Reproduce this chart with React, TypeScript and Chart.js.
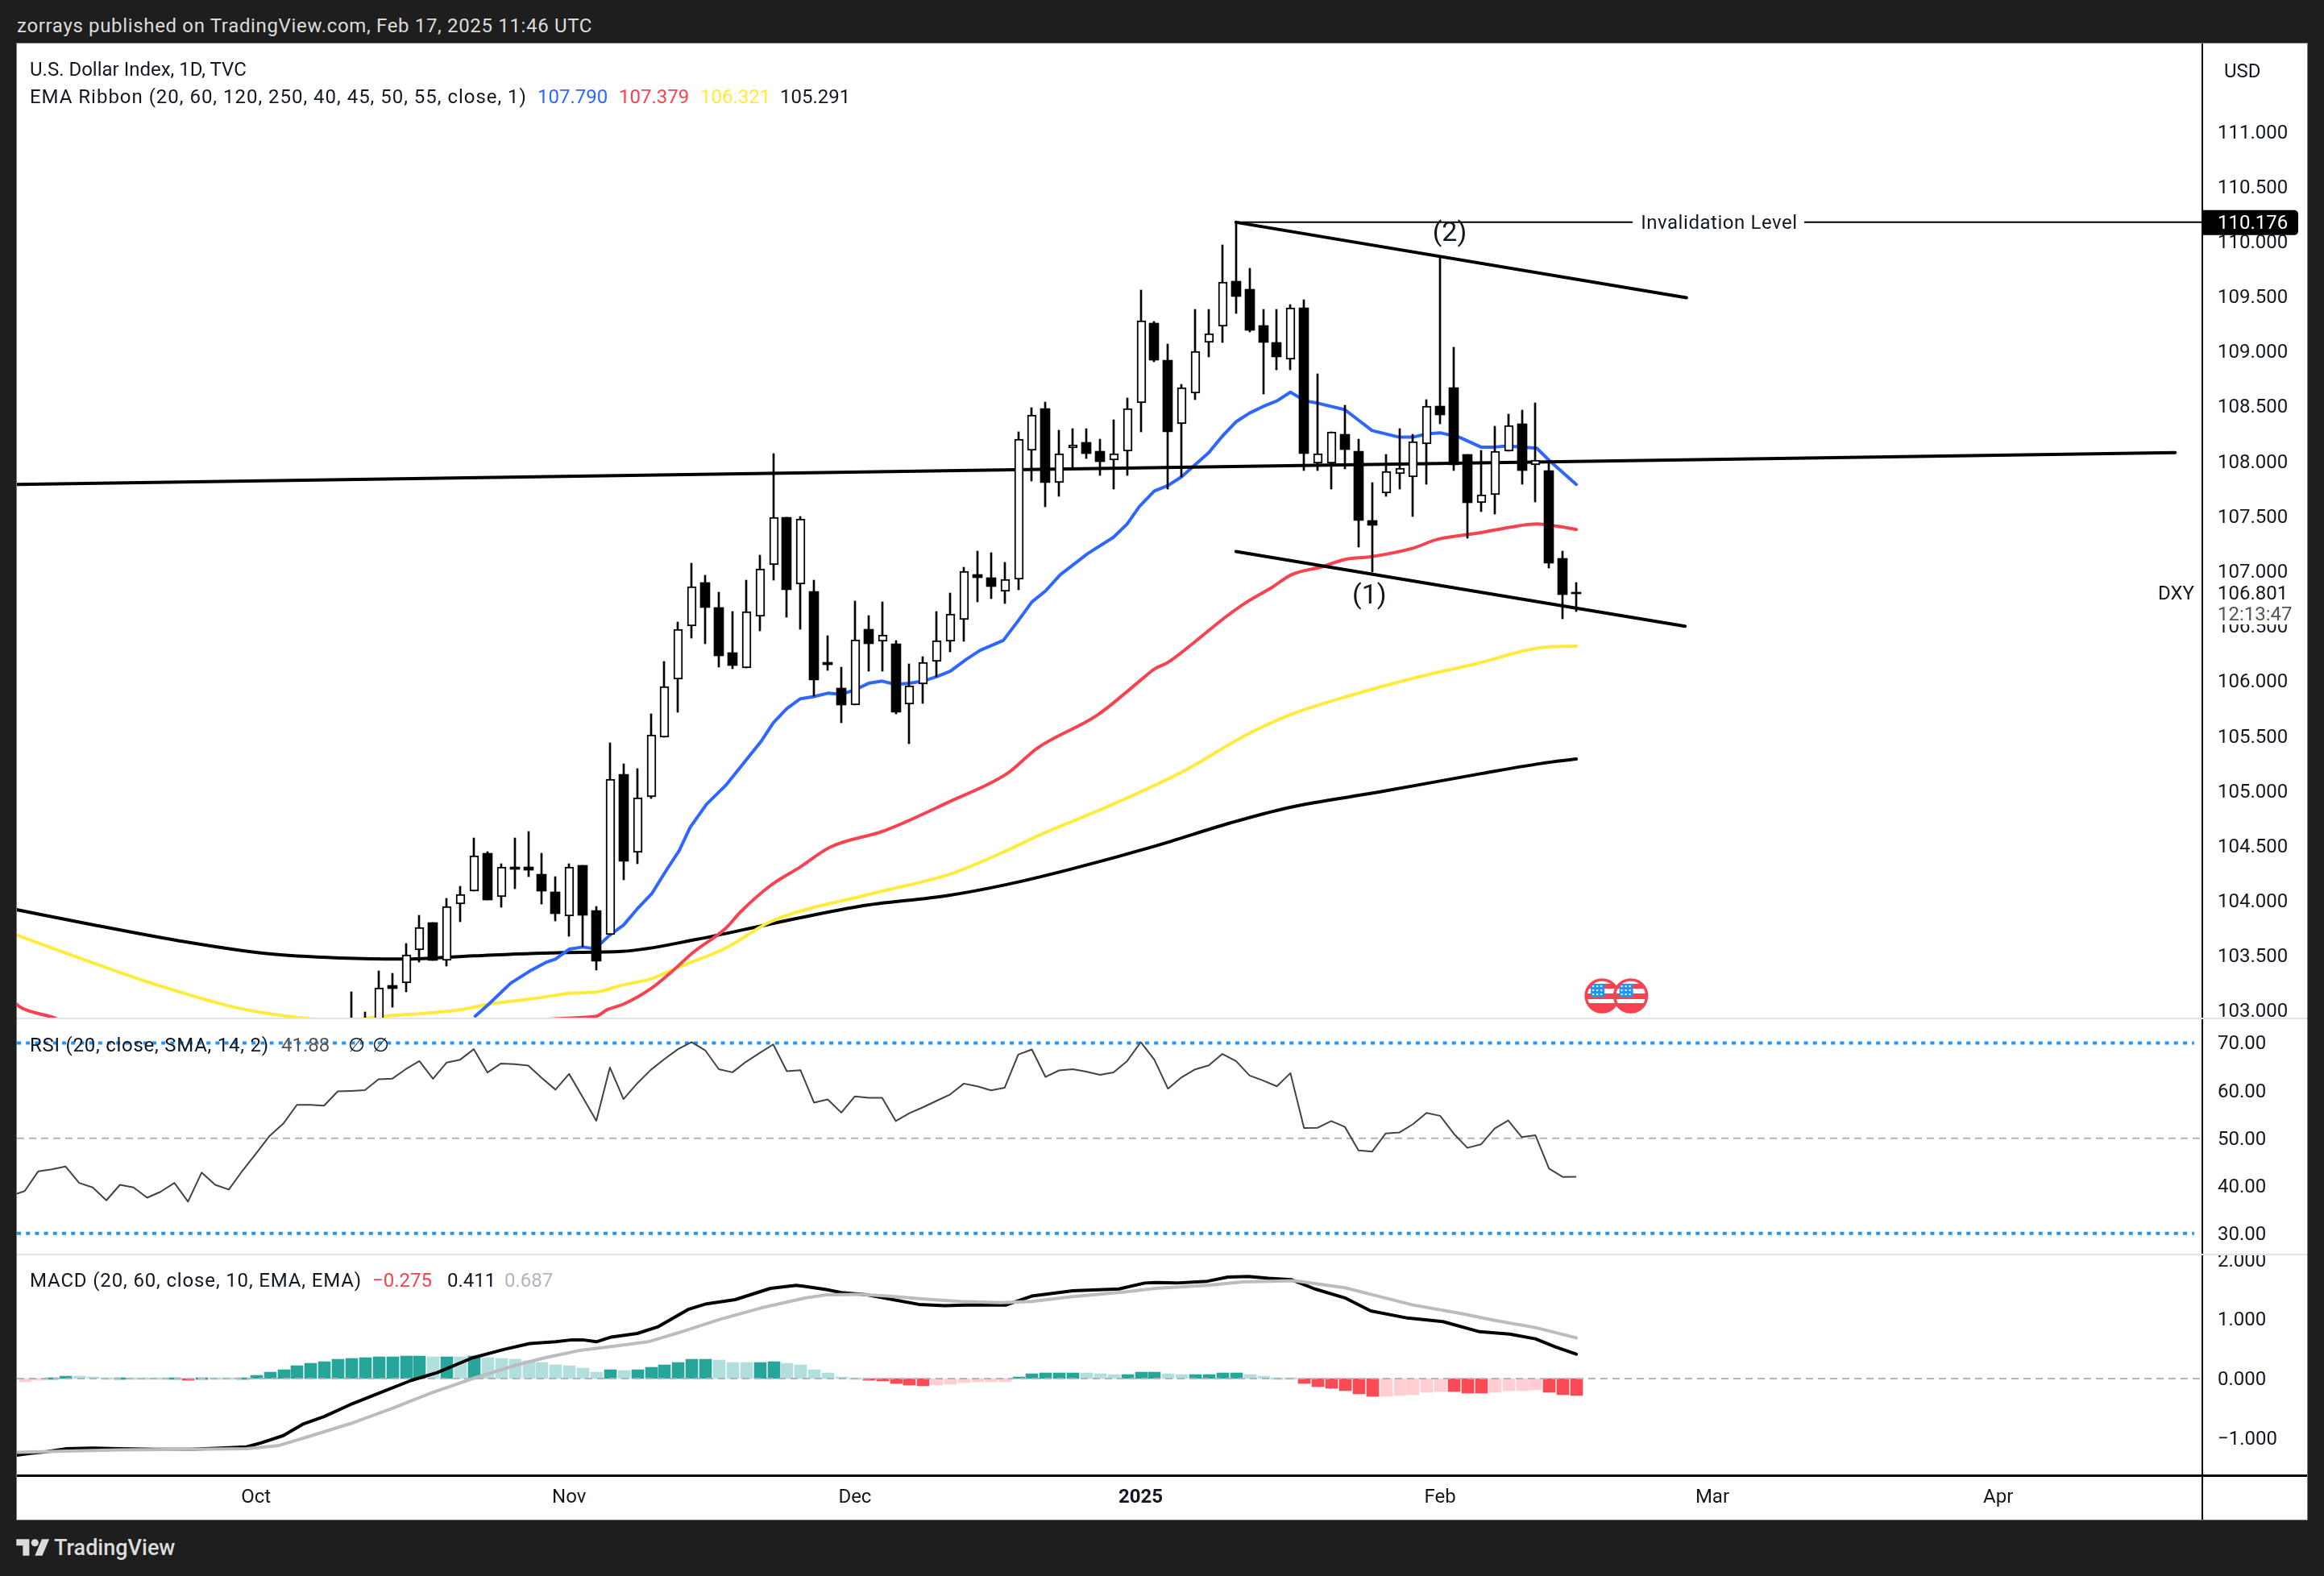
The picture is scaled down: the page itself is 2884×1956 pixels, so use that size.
import React, { useEffect, useRef } from "react";
import { Chart, registerables } from "chart.js";

Chart.register(...registerables);

// ---------- Price bars (daily) ----------
const barOpen = [102.85,102.88,102.85,103.23,103.25,103.55,103.80,103.46,103.97,104.09,104.43,104.04,104.31,104.31,104.24,104.08,103.86,104.32,103.91,103.69,105.15,104.44,104.95,105.49,106.02,106.50,106.90,106.67,106.26,106.12,106.59,107.06,107.49,106.88,106.82,106.17,105.94,105.78,106.47,106.36,106.34,105.79,105.97,106.18,106.36,106.56,106.97,106.94,106.82,106.93,108.10,108.48,107.81,108.12,108.17,108.09,108.01,108.09,108.53,109.26,108.92,108.34,108.62,109.08,109.23,109.64,109.57,109.24,109.08,108.93,109.40,107.98,107.98,108.25,108.09,107.46,107.71,107.89,107.86,108.16,108.50,108.67,108.06,107.62,107.70,108.09,108.34,107.97,107.92,107.12,106.81];
const barHigh = [103.17,102.99,103.36,103.34,103.61,103.87,103.80,104.02,104.13,104.57,104.45,104.34,104.57,104.63,104.43,104.22,104.34,104.32,103.95,105.44,105.25,105.20,105.70,106.18,106.54,107.07,106.96,106.81,106.63,106.92,107.15,108.07,107.49,107.50,106.92,106.41,106.13,106.73,106.60,106.72,106.37,106.16,106.22,106.63,106.80,107.04,107.18,107.17,107.08,108.27,108.49,108.54,108.28,108.30,108.30,108.20,108.38,108.58,109.56,109.27,109.07,108.70,109.38,109.38,109.97,110.176,109.76,109.38,109.38,109.43,109.47,108.80,108.27,108.51,108.20,107.81,108.06,108.30,108.25,108.56,109.87,109.04,108.06,108.10,108.32,108.43,108.47,108.53,107.98,107.18,106.90];
const barLow = [102.70,102.70,102.80,103.03,103.17,103.44,103.46,103.41,103.81,104.09,104.01,103.94,104.11,104.22,103.97,103.82,103.68,103.58,103.37,103.69,104.19,104.34,104.93,105.49,105.72,106.39,106.34,106.13,106.11,106.12,106.46,106.92,106.58,106.47,105.86,106.10,105.62,105.78,106.09,106.09,105.70,105.43,105.80,106.04,106.27,106.36,106.72,106.75,106.71,106.83,107.82,107.59,107.68,107.93,108.03,107.87,107.75,107.87,108.27,108.91,107.75,107.86,108.56,108.95,109.08,109.35,109.18,108.61,108.83,108.83,107.92,107.92,107.75,107.93,107.22,106.99,107.68,107.75,107.50,107.79,108.34,107.92,107.30,107.54,107.52,108.09,107.79,107.63,107.03,106.57,106.63];
const barClose = [102.80,102.84,103.21,103.20,103.51,103.76,103.46,103.95,104.06,104.41,104.01,104.31,104.29,104.28,104.09,103.88,104.31,103.87,103.45,105.11,104.36,104.94,105.51,105.95,106.47,106.86,106.67,106.23,106.14,106.63,107.02,107.49,106.83,107.48,106.01,106.15,105.78,106.38,106.34,106.42,105.72,105.96,106.17,106.37,106.61,107.00,106.94,106.86,106.93,108.20,108.42,107.81,108.07,108.15,108.07,108.00,108.07,108.48,109.28,108.92,108.27,108.67,109.00,109.16,109.63,109.50,109.19,109.08,108.95,109.40,108.07,108.07,108.27,108.11,107.46,107.42,107.91,107.94,108.18,108.50,108.42,107.97,107.62,107.70,108.09,108.33,107.92,108.01,107.07,106.79,106.801];

// ---------- EMA ribbon (bar position, price) ----------
const ema20Bars = [9.1,10.1,11.7,13.1,14.3,15,16,17,17.6,18.4,19,20,21.1,22.1,23.1,24.1,24.9,26.1,27.5,30.1,31,32,33,34,35,36,37,38,39,40,41,42,43,44,45.2,46.2,47.9,49,50,51,52.1,54.1,56,57,57.9,59,60,61,62,63,64,65,66,67,68,69,70.1,71,73,75,77,78,79,80,81.4,83,84,84.9,87.1,88,90];
const ema20Values = [102.95,103.06,103.25,103.36,103.44,103.47,103.56,103.58,103.57,103.62,103.69,103.78,103.94,104.07,104.27,104.46,104.67,104.88,105.05,105.45,105.62,105.75,105.84,105.86,105.89,105.88,105.92,105.98,106.00,105.97,105.98,106.00,106.04,106.09,106.20,106.28,106.37,106.55,106.72,106.82,106.97,107.16,107.31,107.43,107.59,107.73,107.78,107.86,107.97,108.08,108.23,108.36,108.44,108.50,108.55,108.63,108.55,108.53,108.47,108.28,108.22,108.22,108.25,108.26,108.22,108.13,108.13,108.14,108.12,108.01,107.79];
const ema60Bars = [-24.6,-24.3,-21.7,-18,17,18,18.8,20,22,23.5,25.1,27.5,28.6,30.8,33,35.2,39.2,43.9,48.2,50.4,54.8,58.3,59,60,62,64.2,65.8,67.6,69.1,71.3,73.1,74.8,78,79.8,81.2,82.9,85.1,87.1,88.6,90];
const ema60Values = [103.06,103.03,102.93,102.7,102.94,102.95,103.01,103.06,103.20,103.35,103.53,103.75,103.90,104.14,104.31,104.49,104.64,104.90,105.16,105.39,105.69,106.04,106.11,106.17,106.36,106.58,106.72,106.85,106.97,107.04,107.11,107.13,107.21,107.29,107.32,107.35,107.40,107.43,107.41,107.38];
const ema120Bars = [-24.6,-19.3,-14.9,-8.5,-4.7,-1,2.4,5.7,8.1,10.1,12.7,15,16,18,19.8,22,23.9,27.5,30.8,38.4,43.9,48.2,50.4,55.8,61.3,65.6,68.9,73.7,78.8,82.7,87.1,90];
const ema120Values = [103.69,103.45,103.26,103.03,102.95,102.91,102.95,102.98,103.01,103.06,103.10,103.14,103.16,103.17,103.23,103.29,103.39,103.57,103.81,104.07,104.24,104.46,104.59,104.87,105.19,105.50,105.69,105.88,106.05,106.16,106.30,106.32];
const ema250Bars = [-24.6,-19.3,-12.8,-6.2,-0.8,3.8,9,15.6,19.9,25.4,30.8,37.3,43.9,48.2,52.6,59.1,64.6,68.9,75.5,83.1,87.4,90];
const ema250Values = [103.92,103.79,103.64,103.52,103.48,103.47,103.50,103.53,103.54,103.65,103.79,103.95,104.05,104.15,104.28,104.50,104.71,104.85,104.99,105.16,105.25,105.291];

// ---------- Drawn trend lines ----------
const supportBars = [-24.6, 134];
const supportValues = [107.79, 108.08];
const upperChannelBars = [65, 98.1];
const upperChannelValues = [110.176, 109.49];
const lowerChannelBars = [65, 98];
const lowerChannelValues = [107.18, 106.5];
const invalidationPrice = 110.176;
const invalidationLeftBars = [65, 94.1];
const invalidationRightBars = [106.8, 136];

// ---------- RSI ----------
const rsiFirstBar = -25;
const rsiValues = [37.9,38.9,43.05,43.45,44.07,40.6,39.66,36.95,40.2,39.66,37.5,38.76,40.6,36.67,42.77,40.2,39.2,43.16,46.8,50.5,53.05,57.0,57.0,56.84,59.83,59.94,60.1,62.37,62.49,64.5,66.2,62.49,65.88,66.5,68.7,63.8,65.7,65.54,65.25,62.65,60.2,63.5,58.6,53.67,64.86,58.2,61.5,64.35,66.6,68.7,70.17,68.47,64.5,63.84,66.05,67.9,69.7,64.07,64.3,57.46,58.14,55.37,58.8,58.47,58.47,53.6,55.25,56.5,57.85,59.2,61.47,60.9,60.05,60.6,67.57,68.64,62.88,64.24,64.5,64.0,63.3,63.8,66.2,70.17,66.5,60.4,62.8,64.46,65.3,67.7,66.2,63.16,62.1,60.9,63.67,52.15,52.2,53.6,52.37,47.46,47.17,51.0,51.2,52.94,55.3,54.7,50.96,47.97,48.7,52.03,53.73,50.23,50.62,43.6,41.86,41.88];
const rsiBoundsLevels = [70, 30];
const rsiMidLevel = 50;

// ---------- MACD ----------
const macdBars = [-24.6,-23.6,-22.4,-20.9,-19,-17.1,-14.5,-11.8,-9.6,-7.7,-6.6,-5,-3.5,-2,-0.1,2.1,4.4,6.3,8.9,11.2,13.1,15,16.1,17.1,18,19.1,21,22.5,24.8,26.1,28.2,30.8,32.7,33.4,34.9,36,37.9,39.8,41.7,43.6,45.1,48.1,50,53,56.4,58.3,59.1,60.6,62.9,64.4,65.9,67.4,69.1,70.8,73,74.9,77.6,80.2,82.9,85.1,87,88.5,90];
const macdValues = [-1.29,-1.26,-1.23,-1.18,-1.17,-1.18,-1.19,-1.19,-1.17,-1.15,-1.08,-0.96,-0.76,-0.64,-0.44,-0.24,-0.03,0.10,0.35,0.49,0.59,0.62,0.65,0.65,0.62,0.70,0.76,0.87,1.17,1.26,1.33,1.52,1.57,1.55,1.50,1.45,1.41,1.33,1.25,1.23,1.24,1.24,1.39,1.48,1.51,1.61,1.62,1.61,1.64,1.71,1.72,1.69,1.665,1.51,1.36,1.14,1.02,0.96,0.79,0.75,0.67,0.53,0.411];
const signalBars = [-24.6,-20.9,-17.1,-11.8,-7.7,-5.4,-3.2,-0.1,2.9,5.9,8.9,12,14.2,16.9,19.1,21.8,24,27.1,30.1,33.4,34.9,37.2,39.4,42.1,44.7,47.7,50,53,56.8,59.1,62.9,65.5,69.3,73,74.9,78,81.7,84,87,90];
const signalValues = [-1.24,-1.22,-1.20,-1.19,-1.18,-1.13,-0.98,-0.76,-0.51,-0.24,0,0.22,0.35,0.48,0.54,0.62,0.77,1.00,1.19,1.36,1.41,1.42,1.39,1.34,1.30,1.28,1.30,1.38,1.46,1.52,1.57,1.63,1.65,1.53,1.42,1.24,1.09,0.98,0.86,0.687];
const histFirstBar = -24;
const histValues = [-0.06,-0.02,0.014,0.04,0.035,0.027,0.014,0.016,0.012,0.010,0.008,0.014,-0.02,0.014,0.013,0.012,0.014,0.054,0.11,0.15,0.22,0.26,0.285,0.326,0.34,0.353,0.365,0.368,0.378,0.38,0.367,0.369,0.367,0.38,0.353,0.34,0.326,0.30,0.27,0.23,0.217,0.176,0.11,0.15,0.136,0.15,0.19,0.23,0.27,0.32,0.326,0.312,0.272,0.27,0.272,0.285,0.26,0.23,0.15,0.095,0.027,0.014,-0.023,-0.04,-0.08,-0.11,-0.12,-0.11,-0.095,-0.068,-0.056,-0.054,-0.052,0.027,0.088,0.09,0.093,0.095,0.094,0.08,0.066,0.068,0.108,0.11,0.08,0.066,0.067,0.068,0.093,0.095,0.068,0.04,0.014,0.012,-0.08,-0.136,-0.163,-0.20,-0.258,-0.30,-0.298,-0.285,-0.27,-0.23,-0.217,-0.218,-0.24,-0.244,-0.23,-0.205,-0.20,-0.19,-0.23,-0.265,-0.29];

// ---------- Axes ----------
const priceTicks = [103,103.5,104,104.5,105,105.5,106,106.5,107,107.5,108,108.5,109,109.5,110,110.5,111];
const rsiTicks = [30,40,50,60,70];
const macdTicks = [-1,0,1,2];
const timeLabels = ["Oct","Nov","Dec","2025","Feb","Mar","Apr"];
const timeLabelBars = [-7,16,37,58,80,100,121];
const visibleFirstBar = -24.57;
const visibleLastBar = 136;
const eventBars = [91.9, 94];
const lastPrice = 106.801;
const countdown = "12:13:47";

const FONT = "Roboto, 'Noto Sans', sans-serif";
const BLUE = "#2e66ff";
const RED = "#f7434f";
const YELLOW = "#ffeb3b";

const pts = (xs: number[], ys: number[]) => xs.map((x, i) => ({ x, y: ys[i] }));
const line = (data: any[], color: string, width: number, order: number, extra: any = {}) => ({
  type: "line", data, borderColor: color, borderWidth: width, pointRadius: 0, tension: 0,
  borderJoinStyle: "round", borderCapStyle: "round", fill: false, order, ...extra,
});

function yAxis(min: number, max: number, tickValues: number[], fmt: (v: number) => string) {
  return {
    position: "right", min, max,
    grid: { display: false, drawTicks: false },
    border: { display: true, color: "#000", width: 2 },
    afterFit: (s: any) => { s.width = 130; s.paddingTop = 0; s.paddingBottom = 0; },
    afterBuildTicks: (s: any) => { s.ticks = tickValues.map((value) => ({ value })); },
    ticks: {
      autoSkip: false, padding: 19, labelOffset: 2, color: "#131722", crossAlign: "near",
      font: { family: FONT, size: 24 }, callback: (v: any) => fmt(Number(v)),
    },
  };
}

function xAxis(showLabels: boolean) {
  return {
    type: "linear", min: visibleFirstBar, max: visibleLastBar, offset: false,
    display: showLabels,
    grid: { display: false, drawTicks: false, offset: false },
    border: { display: false },
    afterFit: (s: any) => { s.height = showLabels ? 55 : 0; },
    afterBuildTicks: (s: any) => { s.ticks = timeLabelBars.map((value) => ({ value })); },
    ticks: {
      autoSkip: false, maxRotation: 0, minRotation: 0, padding: 14, color: "#131722",
      font: (c: any) => ({ family: FONT, size: 24, weight: c.tick && c.tick.label === "2025" ? "bold" : "normal" }),
      callback: (v: any) => timeLabels[timeLabelBars.indexOf(Number(v))] ?? "",
    },
  };
}

const baseOptions = {
  responsive: false, animation: false, devicePixelRatio: 1, events: [],
  layout: { padding: 0 },
};
const offPlugins = { legend: { display: false }, tooltip: { enabled: false }, title: { display: false } };

// Keeps bars crisp: aligns each drawn bar to whole device pixels.
const pixelSnap = {
  id: "pixelSnap",
  beforeDatasetsDraw(chart: any) {
    chart.getSortedVisibleDatasetMetas().forEach((m: any) => {
      if (m.type !== "bar") return;
      m.data.forEach((el: any) => {
        const odd = Math.round(el.width) % 2 === 1;
        el.x = Math.round(el.x) + (odd ? 0.5 : 0);
        const top = Math.round(Math.min(el.y, el.base));
        let bot = Math.round(Math.max(el.y, el.base));
        if (bot - top < 2) bot = top + 2;
        el.y = top;
        el.base = bot;
        el.height = bot - top;
      });
    });
  },
};

function drawFlag(ctx: CanvasRenderingContext2D, cx: number, cy: number) {
  const r = 20;
  ctx.save();
  ctx.beginPath(); ctx.arc(cx, cy, r, 0, Math.PI * 2); ctx.fillStyle = "#fff"; ctx.fill();
  ctx.save();
  ctx.beginPath(); ctx.arc(cx, cy, r, 0, Math.PI * 2); ctx.clip();
  ctx.fillStyle = RED;
  ctx.fillRect(cx - r, cy - 15, 2 * r, 6);
  ctx.fillRect(cx - r, cy - 3, 2 * r, 7);
  ctx.fillRect(cx - r, cy + 9, 2 * r, 11);
  ctx.fillStyle = "#2196f3";
  ctx.fillRect(cx - 14, cy - 15, 17, 17);
  ctx.fillStyle = "#fff";
  for (let a = 0; a < 3; a++) for (let b = 0; b < 3; b++) ctx.fillRect(cx - 12 + a * 5, cy - 13 + b * 5, 2, 2);
  ctx.restore();
  ctx.beginPath(); ctx.arc(cx, cy, r, 0, Math.PI * 2);
  ctx.strokeStyle = RED; ctx.lineWidth = 3.5; ctx.stroke();
  ctx.restore();
}

const priceOverlay = {
  id: "priceOverlay",
  afterDraw(chart: any) {
    const { ctx, scales, chartArea } = chart;
    const x = scales.x, y = scales.y;
    const axisLeft = chartArea.right + 1;
    ctx.save();
    ctx.textBaseline = "middle";
    ctx.fillStyle = "#131722";
    ctx.textAlign = "center";
    ctx.font = `34px ${FONT}`;
    ctx.fillText("(2)", x.getPixelForValue(80.7), y.getPixelForValue(110.09) + 3);
    ctx.fillText("(1)", x.getPixelForValue(74.8), y.getPixelForValue(106.79) + 3);
    ctx.font = `24px ${FONT}`;
    ctx.letterSpacing = "0.55px";
    ctx.fillText("Invalidation Level", x.getPixelForValue(100.5), y.getPixelForValue(invalidationPrice) + 2);
    ctx.letterSpacing = "0px";
    eventBars.forEach((b) => drawFlag(ctx, x.getPixelForValue(b), chartArea.bottom - 28));
    const ly = y.getPixelForValue(lastPrice) + 2;
    ctx.fillStyle = "#fff";
    ctx.fillRect(axisLeft + 1, ly - 16, 126, 53);
    ctx.fillStyle = "#131722";
    ctx.textAlign = "left";
    ctx.fillText(lastPrice.toFixed(3), axisLeft + 18, ly);
    ctx.fillStyle = "#555";
    ctx.fillText(countdown, axisLeft + 18, ly + 26);
    ctx.fillStyle = "#131722";
    ctx.textAlign = "right";
    ctx.fillText("DXY", chartArea.right - 10, ly);
    const iy = y.getPixelForValue(invalidationPrice);
    ctx.fillStyle = "#000";
    ctx.beginPath();
    ctx.roundRect(axisLeft - 1, iy - 15, 119, 31, [0, 5, 5, 0]);
    ctx.fill();
    ctx.fillStyle = "#fff";
    ctx.textAlign = "left";
    ctx.fillText(invalidationPrice.toFixed(3), axisLeft + 18, iy + 2);
    ctx.fillStyle = "#131722";
    ctx.fillText("USD", axisLeft + 26, 36);
    ctx.restore();
  },
};

function makePriceChart(canvas: HTMLCanvasElement) {
  const barIdx = barOpen.map((_, i) => i);
  const wicks = barIdx.map((i) => ({ x: i, y: [barLow[i], barHigh[i]] }));
  const ups = barIdx.filter((i) => barClose[i] >= barOpen[i]).map((i) => ({ x: i, y: [barOpen[i], barClose[i]] }));
  const downs = barIdx.filter((i) => barClose[i] < barOpen[i]).map((i) => ({ x: i, y: [barClose[i], barOpen[i]] }));
  const smooth = { cubicInterpolationMode: "monotone" };
  return new Chart(canvas, {
    type: "bar",
    data: {
      datasets: [
        { data: downs, backgroundColor: "#000", barThickness: 12, grouped: false, order: 0 },
        { data: ups, backgroundColor: "#fff", borderColor: "#000", borderWidth: 2, borderSkipped: false, barThickness: 11, grouped: false, order: 0 },
        { data: wicks, backgroundColor: "#000", barThickness: 2, grouped: false, order: 1 },
        line(pts(supportBars, supportValues), "#000", 4, 3),
        line(pts(upperChannelBars, upperChannelValues), "#000", 4, 3),
        line(pts(lowerChannelBars, lowerChannelValues), "#000", 4, 3),
        line(invalidationLeftBars.map((x) => ({ x, y: invalidationPrice })), "#000", 2, 3),
        line(invalidationRightBars.map((x) => ({ x, y: invalidationPrice })), "#000", 2, 3),
        line(pts(ema20Bars, ema20Values), BLUE, 4, 4),
        line(pts(ema60Bars, ema60Values), RED, 4, 5, smooth),
        line(pts(ema120Bars, ema120Values), YELLOW, 4, 6, smooth),
        line(pts(ema250Bars, ema250Values), "#000", 4, 7, smooth),
      ] as any,
    },
    options: {
      ...baseOptions,
      plugins: offPlugins,
      scales: { x: xAxis(false), y: yAxis(102.93, 111.803, priceTicks, (v) => v.toFixed(3)) },
    } as any,
    plugins: [pixelSnap, priceOverlay],
  });
}

function makeRsiChart(canvas: HTMLCanvasElement) {
  const span = [visibleFirstBar, visibleLastBar - 0.6];
  return new Chart(canvas, {
    type: "line",
    data: {
      datasets: [
        line(rsiValues.map((y, i) => ({ x: rsiFirstBar + i, y })), "#434343", 2, 0, { borderCapStyle: "butt" }),
        ...rsiBoundsLevels.map((lvl) =>
          line(span.map((x) => ({ x, y: lvl })), "#2196f3", 4, 1, { borderDash: [5, 6.2], borderCapStyle: "butt" })),
        line([visibleFirstBar, visibleLastBar].map((x) => ({ x, y: rsiMidLevel })), "#b2b5be", 2, 2, { borderDash: [9, 6], borderCapStyle: "butt" }),
      ] as any,
    },
    options: {
      ...baseOptions,
      plugins: offPlugins,
      scales: { x: xAxis(false), y: yAxis(25.56, 75.16, rsiTicks, (v) => v.toFixed(2)) },
    } as any,
  });
}

function histColor(i: number) {
  const v = histValues[i];
  const prev = i > 0 ? histValues[i - 1] : v - 1;
  if (v >= 0) return prev < v ? "#26a69a" : "#b2dfdb";
  return prev < v ? "#ffcdd2" : "#f94a55";
}

function makeMacdChart(canvas: HTMLCanvasElement) {
  return new Chart(canvas, {
    type: "bar",
    data: {
      datasets: [
        line(pts(signalBars, signalValues), "#bbbbc0", 4, 0),
        line(pts(macdBars, macdValues), "#000", 4, 1),
        line([visibleFirstBar, visibleLastBar].map((x) => ({ x, y: 0 })), "#b2b5be", 2, 2, { borderDash: [9, 6], borderCapStyle: "butt" }),
        {
          data: histValues.map((y, i) => ({ x: histFirstBar + i, y })),
          backgroundColor: histValues.map((_, i) => histColor(i)),
          barThickness: 15, grouped: false, order: 3,
        },
      ] as any,
    },
    options: {
      ...baseOptions,
      plugins: offPlugins,
      scales: {
        x: xAxis(true),
        y: yAxis(-1.628, 2.09, macdTicks, (v) => (v < 0 ? "\u2212" + Math.abs(v).toFixed(3) : v.toFixed(3))),
      },
    } as any,
    plugins: [pixelSnap],
  });
}

const abs = (left: number, top: number, width?: number, height?: number): React.CSSProperties => ({
  position: "absolute", left, top, width, height,
});
const textRow = (left: number, center: number, color = "#131722", spacing = 0, size = 24): React.CSSProperties => ({
  position: "absolute", left, top: center - 20, height: 40, lineHeight: "40px", color,
  fontFamily: FONT, fontSize: size, whiteSpace: "nowrap", pointerEvents: "none", letterSpacing: spacing,
});

export default function App() {
  const priceRef = useRef<HTMLCanvasElement>(null);
  const rsiRef = useRef<HTMLCanvasElement>(null);
  const macdRef = useRef<HTMLCanvasElement>(null);
  useEffect(() => {
    const charts = [
      makePriceChart(priceRef.current!),
      makeRsiChart(rsiRef.current!),
      makeMacdChart(macdRef.current!),
    ];
    return () => charts.forEach((c) => c.destroy());
  }, []);

  return (
    <div style={{ ...abs(0, 0, 2884, 1956), background: "#1e1e1e", overflow: "hidden" }}>
      <div style={textRow(21, 32, "#dcdcdc", 0.66)}>zorrays published on TradingView.com, Feb 17, 2025 11:46 UTC</div>
      <div style={{ ...abs(20, 53, 2844, 1834), background: "#fff", border: "1px solid #777", boxSizing: "border-box" }} />

      <canvas ref={priceRef} width={2842} height={1210} style={abs(21, 54, 2842, 1210)} />
      <canvas ref={rsiRef} width={2842} height={293} style={abs(21, 1264, 2842, 293)} />
      <canvas ref={macdRef} width={2842} height={329} style={abs(21, 1557, 2842, 329)} />

      <div style={{ ...abs(21, 1263, 2842, 2), background: "#e0e3eb" }} />
      <div style={{ ...abs(21, 1556, 2842, 2), background: "#e0e3eb" }} />
      <div style={{ ...abs(21, 1830, 2842, 3), background: "#000" }} />
      <div style={{ ...abs(2732, 1831, 2, 55), background: "#000" }} />

      <div style={textRow(37, 86)}>U.S. Dollar Index, 1D, TVC</div>
      <div style={textRow(37, 120, "#131722", 0.98)}>EMA Ribbon (20, 60, 120, 250, 40, 45, 50, 55, close, 1)</div>
      <div style={textRow(667, 120, BLUE)}>107.790</div>
      <div style={textRow(768, 120, RED)}>107.379</div>
      <div style={textRow(869, 120, YELLOW)}>106.321</div>
      <div style={textRow(968, 120)}>105.291</div>

      <div style={textRow(37, 1297, "#131722", 0.75)}>RSI (20, close, SMA, 14, 2)</div>
      <div style={textRow(349, 1297, "#555")}>41.88</div>
      <div style={textRow(432, 1297)}>∅</div>
      <div style={textRow(462, 1297)}>∅</div>

      <div style={textRow(37, 1589, "#131722", 0.85)}>MACD (20, 60, close, 10, EMA, EMA)</div>
      <div style={textRow(462, 1589, RED)}>−0.275</div>
      <div style={textRow(555, 1589)}>0.411</div>
      <div style={textRow(626, 1589, "#b2b5be")}>0.687</div>

      <svg style={abs(20, 1909, 42, 23)} viewBox="0 3 36 20" fill="#dcdcdc">
        <path d="M14 22H7V11H0V4h14v18zM28 22h-8l7.5-18h8L28 22z" />
        <circle cx="20" cy="8" r="4" />
      </svg>
      <div style={{ ...textRow(67, 1921, "#dcdcdc", 0, 27), fontWeight: 500 }}>TradingView</div>
    </div>
  );
}
